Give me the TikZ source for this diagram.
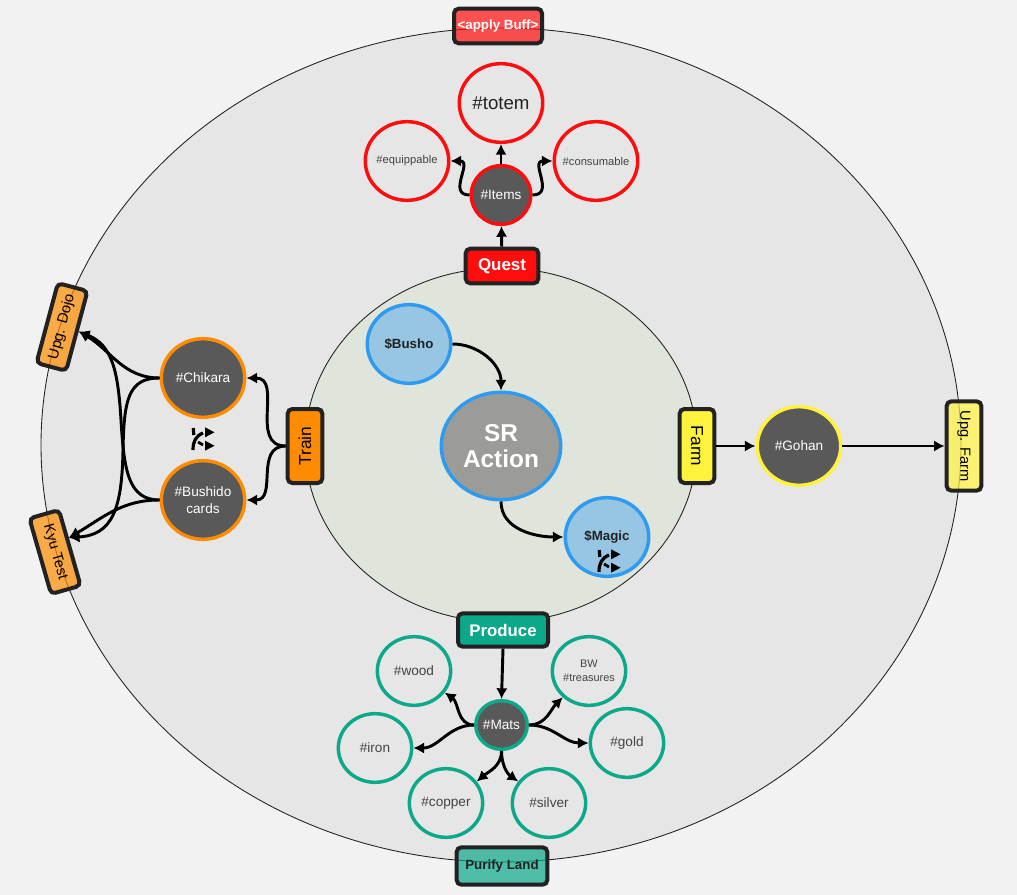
\documentclass[tikz,border=0pt]{standalone}
\usepackage{fontspec}
\setmainfont{Liberation Sans}
\usepackage{xcolor}
\usetikzlibrary{arrows.meta,shapes.geometric}
\definecolor{pagebg}{HTML}{F2F2F2}
\definecolor{ringbg}{HTML}{E6E6E6}
\definecolor{corebg}{HTML}{DFE5DA}
\definecolor{boxline}{HTML}{222222}
\definecolor{darkfill}{HTML}{595959}
\definecolor{srfill}{HTML}{9B9C97}
\definecolor{bluefill}{HTML}{96C6E3}
\definecolor{blueline}{HTML}{2E9BF0}
\definecolor{redc}{HTML}{FF0D0D}
\definecolor{orangec}{HTML}{FF8C00}
\definecolor{yellowc}{HTML}{FFF23C}
\definecolor{tealc}{HTML}{0BA88A}
\definecolor{lighttext}{HTML}{444444}
\tikzset{
  ring/.style     = {draw=boxline, ellipse, line width=0.65pt, inner sep=0pt, outer sep=0pt},
  actbox/.style   = {draw=boxline, rectangle, rounded corners=3.5pt, line width=3pt,
                     inner sep=0pt, outer sep=1.5pt, align=center},
  softbox/.style  = {actbox, fill opacity=0.7, text opacity=1},
  bub/.style      = {draw, ellipse, line width=2.6pt, inner sep=0pt, inner xsep=-8pt, outer sep=1.3pt,
                     minimum width=62.6pt, minimum height=59pt, align=center},
  matbub/.style   = {bub, fill=ringbg, draw=tealc, text=lighttext, font=\fontsize{10.2}{12}\selectfont,
                     minimum width=55pt, minimum height=51.5pt},
  hub/.style      = {bub, fill=darkfill, text=white, font=\fontsize{10.2}{12.5}\selectfont},
  sig/.style      = {-{Latex[length=8pt,width=8.5pt]}, line width=2.2pt, black},
  swapicon/.pic   = {
    \draw[line width=2.4pt] (-9.7,-11) -- (-9.2,-4);
    \draw[line width=2.4pt] (0,-6) .. controls (-7,-3) and (-10,2) .. (-10,11);
    \draw[line width=2.1pt] (-5,3) -- (0,6);
    \fill (2,-11.7) -- (2,-1.7) -- (11.5,-6.7) -- cycle;
    \fill (2,1.7) -- (2,11.7) -- (11.5,6.7) -- cycle;
  },
}
\begin{document}
\begin{tikzpicture}[x=0.75pt,y=-0.75pt]
\useasboundingbox (0,0) rectangle (1017,895);
\fill[pagebg] (0,0) rectangle (1017,895);
\node[ring,fill=ringbg,minimum width=690pt,minimum height=625.5pt] (outer) at (501,445) {};
\node[ring,fill=corebg,minimum width=294pt,minimum height=265.5pt] (core) at (501,445) {};
% action boxes on the rings
\node[softbox,fill=redc,text=white,minimum width=66pt,minimum height=26pt,font=\fontsize{10}{12}\bfseries] (buff) at (498,26) {<apply Buff>};
\node[actbox,fill=redc,text=white,minimum width=54.5pt,minimum height=26pt,font=\fontsize{12.7}{15}\bfseries] (quest) at (502,266) {Quest};
\node[actbox,fill=orangec,rotate=90,minimum width=55.5pt,minimum height=26pt,font=\fontsize{13}{15}\selectfont] (train) at (305,446) {Train};
\node[actbox,fill=yellowc,rotate=-90,minimum width=55.5pt,minimum height=26pt,font=\fontsize{13}{15}\selectfont] (farm) at (697,446) {Farm};
\node[actbox,fill=tealc,text=white,minimum width=67.5pt,minimum height=25pt,font=\fontsize{12.6}{15}\bfseries] (produce) at (503,630) {Produce};
\node[softbox,fill=tealc,text=boxline,minimum width=68pt,minimum height=28pt,font=\fontsize{10}{12}\bfseries] (purify) at (502,866) {Purify Land};
\node[softbox,fill=orangec,rotate=75,minimum width=62pt,minimum height=23pt,font=\fontsize{11}{13}\selectfont] (dojo) at (62,327) {Upg. Dojo};
\node[softbox,fill=orangec,rotate=-74,minimum width=59pt,minimum height=23pt,font=\fontsize{11}{13}\selectfont] (kyu) at (55,552) {Kyu Test};
\node[softbox,fill=yellowc,rotate=-90,minimum width=67pt,minimum height=26pt,font=\fontsize{11}{13}\selectfont] (upgfarm) at (964,446) {Upg. Farm};
% centre
\node[bub,fill=bluefill,draw=blueline,text=boxline,font=\fontsize{10}{12}\bfseries] (busho) at (409,344) {\$Busho};
\node[bub,fill=srfill,draw=blueline,text=white,minimum width=89.6pt,minimum height=80.6pt,font=\fontsize{18.3}{20}\bfseries] (sr) at (501,446) {SR\\Action};
\node[bub,fill=bluefill,draw=blueline,text=boxline,font=\fontsize{10}{12}\bfseries] (magic) at (607,537) {\$Magic};
\pic at (609,561) {swapicon};
% quest side
\node[hub,draw=redc,minimum width=44.6pt,minimum height=44pt] (items) at (501,195) {\#Items};
\node[bub,fill=ringbg,draw=redc,text=boxline,font=\fontsize{14}{16}\selectfont] (totem) at (501,103) {\#totem};
\node[bub,fill=ringbg,draw=redc,text=lighttext,font=\fontsize{8.4}{10}\selectfont] (equip) at (407,161) {\#equippable};
\node[bub,fill=ringbg,draw=redc,text=lighttext,font=\fontsize{8.4}{10}\selectfont] (consum) at (596,161) {\#consumable};
% train side
\node[hub,draw=orangec] (chikara) at (203,378) {\#Chikara};
\node[hub,draw=orangec] (bushido) at (203,500) {\#Bushido\\cards};
\pic at (203,439) {swapicon};
% farm side
\node[hub,draw=yellowc] (gohan) at (799,446) {\#Gohan};
% produce side
\node[hub,draw=tealc,minimum width=38.6pt,minimum height=36.4pt] (mats) at (501.5,725) {\#Mats};
\node[matbub] (wood) at (414,671) {\#wood};
\node[matbub,font=\fontsize{8.2}{10.5}\selectfont] (bw) at (589,671) {BW\\\#treasures};
\node[matbub] (iron) at (375,748) {\#iron};
\node[matbub] (gold) at (627,743) {\#gold};
\node[matbub] (copper) at (446,803) {\#copper};
\node[matbub] (silver) at (549,803) {\#silver};
% connectors
\draw[sig] (quest) -- (items);
\draw[sig] (items) -- (totem);
\draw[sig] (items.west) to[out=180,in=0,looseness=1.5] (equip.east);
\draw[sig] (items.east) to[out=0,in=180,looseness=1.5] (consum.west);
\draw[sig] (busho.east) to[out=0,in=90] (sr.north);
\draw[sig] (sr.south) to[out=-90,in=180] (magic.west);
\draw[sig] (train.north) to[out=180,in=0,looseness=1.2] (chikara.east);
\draw[sig] (train.north) to[out=180,in=0,looseness=1.2] (bushido.east);
\draw[sig] (chikara.west) to[out=180,in=-30] (dojo.south);
\draw[sig] (chikara.west) .. controls (128,378) and (124,400) .. (123,450) .. controls (122,510) and (112,535) .. (kyu.120);
\draw[sig] (bushido.west) to[out=180,in=30] (kyu.120);
\draw[sig] (bushido.west) .. controls (128,500) and (124,470) .. (121,420) .. controls (118,370) and (112,345) .. (dojo.south);
\draw[sig] (farm.north) -- (gohan.west);
\draw[sig] (gohan.east) -- (upgfarm.south);
\draw[sig] (produce.south) -- (mats.north);
\draw[sig] (mats.west) to[out=180,in=-35] (wood.-35);
\draw[sig] (mats.west) to[out=180,in=0] (iron.east);
\draw[sig] (mats.south) to[out=-90,in=40] (copper.35);
\draw[sig] (mats.south) to[out=-90,in=145] (silver.145);
\draw[sig] (mats.east) to[out=0,in=-135] (bw.-135);
\draw[sig] (mats.east) to[out=0,in=180] (gold.west);
\end{tikzpicture}
\end{document}
